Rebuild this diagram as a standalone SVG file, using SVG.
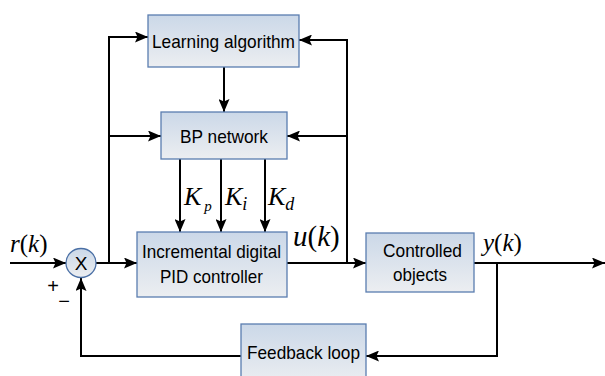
<svg xmlns="http://www.w3.org/2000/svg" width="605" height="376" viewBox="0 0 605 376">
  <style>
    .box { stroke: #5a7db0; stroke-width: 1.3; fill: url(#boxFill); }
    .lbl { font-family: "Liberation Sans", Arial, sans-serif; font-size: 19px; fill: #000; text-anchor: middle; }
    .math { font-family: "Liberation Serif", "Times New Roman", serif; font-style: italic; fill: #000; }
    .wire { fill: none; stroke: #000; stroke-width: 2; }
    .arr { marker-end: url(#head); }
  </style>
  <defs>
    <linearGradient id="boxFill" x1="0" y1="0" x2="0" y2="1">
      <stop offset="0" stop-color="#cbd8e8"/>
      <stop offset="1" stop-color="#eceef1"/>
    </linearGradient>
    <marker id="head" viewBox="0 0 13 11" refX="13" refY="5.5" markerWidth="13" markerHeight="11" markerUnits="userSpaceOnUse" orient="auto">
      <path d="M0,0 L13,5.5 L0,11 L2.5,5.5 Z" fill="#000"/>
    </marker>
  </defs>

  <!-- signal wires -->
  <g id="connectors">
    <!-- reference input into summing junction -->
    <path class="wire arr" d="M10,263 H66"/>
    <!-- error to PID -->
    <path class="wire arr" d="M96,263 H137"/>
    <!-- error tap to learning algorithm and BP network -->
    <path class="wire arr" d="M109,263 V37 H148"/>
    <path class="wire arr" d="M109,136 H161"/>
    <!-- learning algorithm to BP network -->
    <path class="wire arr" d="M224,67 V112"/>
    <!-- gains -->
    <path class="wire arr" d="M180,159 V232"/>
    <path class="wire arr" d="M221,159 V232"/>
    <path class="wire arr" d="M265,159 V232"/>
    <!-- control signal -->
    <path class="wire arr" d="M287,263 H366"/>
    <!-- control tap to learning algorithm and BP network -->
    <path class="wire arr" d="M347,263 V40 H299"/>
    <path class="wire arr" d="M347,136 H287"/>
    <!-- plant output -->
    <path class="wire arr" d="M474,263 H605"/>
    <!-- feedback path -->
    <path class="wire arr" d="M497,263 V356 H366"/>
    <path class="wire arr" d="M241,356 H81 V278"/>
  </g>

  <g id="learning">
    <rect class="box" x="148" y="15" width="151" height="52"/>
    <text class="lbl" x="223.5" y="47.5" textLength="143" lengthAdjust="spacingAndGlyphs">Learning algorithm</text>
  </g>

  <g id="bp">
    <rect class="box" x="161" y="112" width="126" height="47"/>
    <text class="lbl" x="224" y="142.5" textLength="88" lengthAdjust="spacingAndGlyphs">BP network</text>
  </g>

  <g id="pid">
    <rect class="box" x="137" y="232" width="150" height="65"/>
    <text class="lbl" x="211.5" y="258" font-size="18" textLength="139" lengthAdjust="spacingAndGlyphs">Incremental digital</text>
    <text class="lbl" x="211.5" y="283" textLength="103" lengthAdjust="spacingAndGlyphs">PID controller</text>
  </g>

  <g id="plant">
    <rect class="box" x="366" y="233" width="108" height="59"/>
    <text class="lbl" x="422.5" y="257" textLength="79" lengthAdjust="spacingAndGlyphs">Controlled</text>
    <text class="lbl" x="420" y="281" textLength="54" lengthAdjust="spacingAndGlyphs">objects</text>
  </g>

  <g id="feedback">
    <rect class="box" x="241" y="324" width="125" height="60"/>
    <text class="lbl" x="303.5" y="359" textLength="113" lengthAdjust="spacingAndGlyphs">Feedback loop</text>
  </g>

  <g id="sum">
    <ellipse cx="81" cy="263" rx="15" ry="14.5" fill="url(#boxFill)" stroke="#4a6fa5" stroke-width="1.3"/>
    <text class="lbl" x="81" y="270" font-size="19">X</text>
    <text x="53" y="293" font-family="Liberation Sans, Arial, sans-serif" font-size="20" text-anchor="middle">+</text>
    <text x="64" y="308" font-family="Liberation Sans, Arial, sans-serif" font-size="20" text-anchor="middle">−</text>
  </g>

  <!-- signal labels -->
  <g id="labels">
    <text class="math" x="10" y="252" font-size="25">r<tspan font-style="normal">(</tspan>k<tspan font-style="normal">)</tspan></text>
    <text class="math" x="293" y="246" font-size="29">u<tspan font-style="normal">(</tspan>k<tspan font-style="normal">)</tspan></text>
    <text class="math" x="483" y="251" font-size="25">y<tspan font-style="normal">(</tspan>k<tspan font-style="normal">)</tspan></text>
    <text class="math" x="184" y="205" font-size="26">K<tspan font-size="15" dx="3" dy="6">p</tspan></text>
    <text class="math" x="225" y="205" font-size="26">K<tspan font-size="18" dy="5">i</tspan></text>
    <text class="math" x="268" y="205" font-size="26">K<tspan font-size="18" dy="5">d</tspan></text>
  </g>
</svg>
